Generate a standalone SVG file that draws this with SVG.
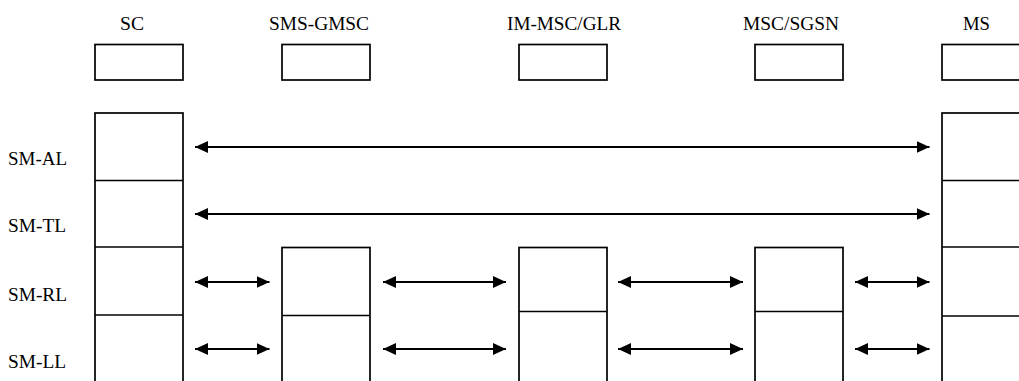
<svg xmlns="http://www.w3.org/2000/svg" width="1019" height="381" viewBox="0 0 1019 381">
<style>
.box{fill:#fff;stroke:#000;stroke-width:1.7}
.ln{stroke:#000;stroke-width:1.7}
.lbl{font-family:"Liberation Serif","Times New Roman",serif;font-size:18px;fill:#000}
.conn{stroke:#000;stroke-width:1.8;fill:none;marker-start:url(#ah);marker-end:url(#ah)}
</style>
<defs>
<marker id="ah" viewBox="0 0 13 12" refX="13" refY="6" markerWidth="13" markerHeight="12" markerUnits="userSpaceOnUse" orient="auto-start-reverse">
<path d="M0,0 L13,6 L0,12 Z" fill="#000"/>
</marker>
</defs>
<g id="node-SC">
<text class="lbl" x="120" y="30" textLength="24" lengthAdjust="spacingAndGlyphs">SC</text>
<rect class="box" x="95" y="44.5" width="88" height="35.5"/>
<rect class="box" x="95" y="113" width="88" height="290"/>
<line class="ln" x1="95" y1="180.5" x2="183" y2="180.5"/>
<line class="ln" x1="95" y1="247" x2="183" y2="247"/>
<line class="ln" x1="95" y1="315" x2="183" y2="315"/>
</g>
<g id="node-SMS-GMSC">
<text class="lbl" x="269" y="30" textLength="100" lengthAdjust="spacingAndGlyphs">SMS-GMSC</text>
<rect class="box" x="282" y="44.5" width="88" height="35.5"/>
<rect class="box" x="282" y="247.5" width="88" height="160"/>
<line class="ln" x1="282" y1="315.5" x2="370" y2="315.5"/>
</g>
<g id="node-IM-MSC-GLR">
<text class="lbl" x="507" y="30" textLength="114" lengthAdjust="spacingAndGlyphs">IM-MSC/GLR</text>
<rect class="box" x="519" y="44.5" width="88" height="35.5"/>
<rect class="box" x="519" y="247.5" width="88" height="160"/>
<line class="ln" x1="519" y1="311.5" x2="607" y2="311.5"/>
</g>
<g id="node-MSC-SGSN">
<text class="lbl" x="743" y="30" textLength="96" lengthAdjust="spacingAndGlyphs">MSC/SGSN</text>
<rect class="box" x="755" y="44.5" width="88" height="35.5"/>
<rect class="box" x="755" y="247.5" width="88" height="160"/>
<line class="ln" x1="755" y1="311.5" x2="843" y2="311.5"/>
</g>
<g id="node-MS">
<text class="lbl" x="963" y="30" textLength="27" lengthAdjust="spacingAndGlyphs">MS</text>
<rect class="box" x="942" y="44.5" width="88" height="35.5"/>
<rect class="box" x="942" y="113" width="88" height="290"/>
<line class="ln" x1="942" y1="180.5" x2="1030" y2="180.5"/>
<line class="ln" x1="942" y1="247" x2="1030" y2="247"/>
<line class="ln" x1="942" y1="316" x2="1030" y2="316"/>
</g>
<g id="layer-labels">
<text class="lbl" x="8" y="165" textLength="59" lengthAdjust="spacingAndGlyphs">SM-AL</text>
<text class="lbl" x="8" y="232" textLength="58" lengthAdjust="spacingAndGlyphs">SM-TL</text>
<text class="lbl" x="8" y="301" textLength="59" lengthAdjust="spacingAndGlyphs">SM-RL</text>
<text class="lbl" x="8" y="368" textLength="58" lengthAdjust="spacingAndGlyphs">SM-LL</text>
</g>
<g id="connectors">
<line class="conn" x1="195" y1="147" x2="929.5" y2="147"/>
<line class="conn" x1="195" y1="214" x2="929.5" y2="214"/>
<line class="conn" x1="195" y1="282" x2="269.5" y2="282"/>
<line class="conn" x1="383" y1="282" x2="506" y2="282"/>
<line class="conn" x1="618" y1="282" x2="743" y2="282"/>
<line class="conn" x1="855" y1="282" x2="929.5" y2="282"/>
<line class="conn" x1="195" y1="349" x2="269.5" y2="349"/>
<line class="conn" x1="383" y1="349" x2="506" y2="349"/>
<line class="conn" x1="618" y1="349" x2="743" y2="349"/>
<line class="conn" x1="855" y1="349" x2="929.5" y2="349"/>
</g>
</svg>
